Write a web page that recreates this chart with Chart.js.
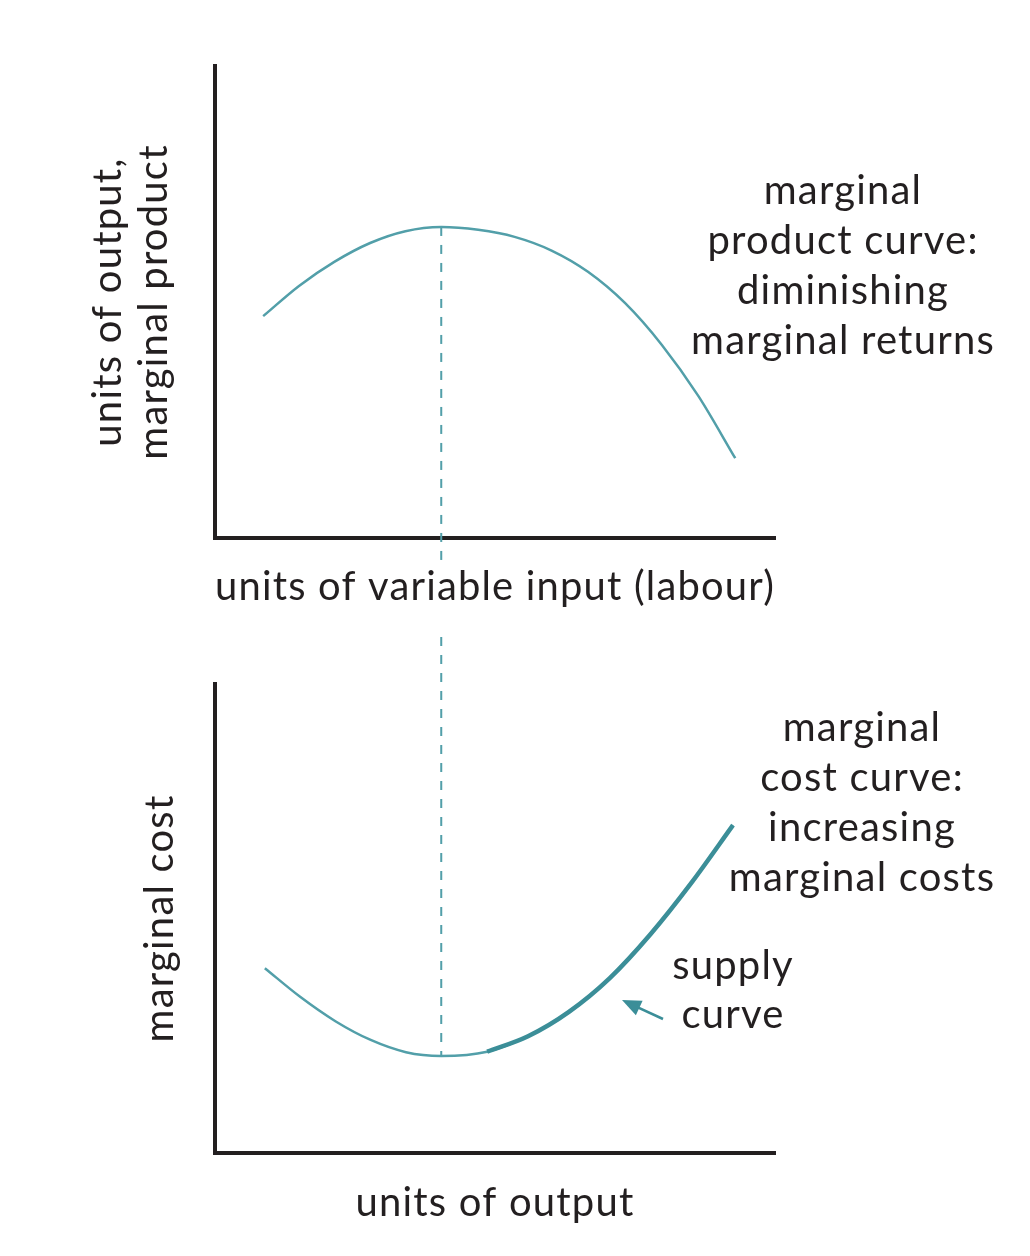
<!DOCTYPE html>
<html>
<head>
<meta charset="utf-8">
<script src="https://cdn.jsdelivr.net/npm/chart.js@4.4.1/dist/chart.umd.min.js"></script>
<style>
  html, body { margin: 0; padding: 0; background: #fff; }
  .panel { position: absolute; left: 0; width: 1030px; height: 628px; }
</style>
</head>
<body>
<div class="panel" style="top:0"><canvas id="productChart"></canvas></div>
<div class="panel" style="top:628px"><canvas id="costChart"></canvas></div>
<script>
// top panel: marginal product against labour
const labourUnits = [8.6, 15.0, 21.3, 27.7, 34.0, 40.4, 47.0, 53.5, 60.1, 66.6, 73.2, 79.8, 86.3, 92.9];
const marginalProduct = [47.0, 53.4, 58.5, 62.5, 65.0, 65.9, 65.3, 63.8, 60.9, 56.4, 49.8, 40.9, 30.1, 16.9];

// bottom panel: marginal cost against output
const outputUnits = [8.9, 15.2, 21.5, 27.8, 34.1, 40.4, 48.6, 55.9, 63.2, 70.5, 77.8, 85.2, 92.5];
const marginalCost = [39.4, 33.3, 28.1, 24.1, 21.5, 20.7, 21.6, 24.9, 30.1, 37.3, 46.7, 57.8, 69.9];
const supplyStart = 48.6;

const productNote = ['marginal', 'product curve:', 'diminishing', 'marginal returns'];
const costNote = ['marginal', 'cost curve:', 'increasing', 'marginal costs'];
const supplyNote = ['supply', 'curve'];

const teal = '#529fa9';
const tealDark = '#3b8e98';
const ink = '#231f20';
const FONT = 'Lato, "Open Sans", sans-serif';
const FS = 40;
const SPACING = '1.2px';

const toPoints = (xs, ys) => xs.map((x, i) => ({ x, y: ys[i] }));

// wider tracking for every text drawn on the canvas
const tracking = {
    id: 'tracking',
    beforeDraw(chart) { chart.ctx.letterSpacing = SPACING; },
};

function noteLines(lines, dx, dy, lh) {
    return {
        id: 'note',
        afterDraw(chart) {
            const { ctx, chartArea: a } = chart;
            ctx.save();
            ctx.letterSpacing = SPACING;
            ctx.font = FS + 'px ' + FONT;
            ctx.fillStyle = ink;
            ctx.textAlign = 'center';
            ctx.textBaseline = 'middle';
            lines.forEach((t, i) => ctx.fillText(t, a.right + dx, a.top + dy + i * lh));
            ctx.restore();
        },
    };
}

function guide(pointX, pointY, fromTop) {
    return {
        id: 'guide',
        beforeDatasetsDraw(chart) {
            const { ctx, chartArea: a, scales } = chart;
            const x = scales.x.getPixelForValue(pointX);
            const y = scales.y.getPixelForValue(pointY);
            ctx.save();
            ctx.strokeStyle = teal;
            ctx.lineWidth = 2;
            ctx.setLineDash([9, 9]);
            ctx.beginPath();
            if (fromTop) {
                ctx.moveTo(x, 9);
                ctx.lineTo(x, y);
            } else {
                ctx.moveTo(x, y);
                ctx.lineTo(x, a.bottom + 26);
            }
            ctx.stroke();
            ctx.restore();
        },
    };
}

const arrow = {
    id: 'arrow',
    afterDraw(chart) {
        const { ctx, chartArea: a } = chart;
        const tx = a.left + 407, ty = a.top + 316;
        const sx = a.left + 448, sy = a.top + 335;
        const ang = Math.atan2(ty - sy, tx - sx);
        ctx.save();
        ctx.strokeStyle = tealDark;
        ctx.fillStyle = tealDark;
        ctx.lineWidth = 2.5;
        ctx.beginPath();
        ctx.moveTo(sx, sy);
        ctx.lineTo(tx - 12 * Math.cos(ang), ty - 12 * Math.sin(ang));
        ctx.stroke();
        ctx.beginPath();
        ctx.moveTo(tx, ty);
        ctx.lineTo(tx - 19 * Math.cos(ang) + 8 * Math.sin(ang), ty - 19 * Math.sin(ang) - 8 * Math.cos(ang));
        ctx.lineTo(tx - 19 * Math.cos(ang) - 8 * Math.sin(ang), ty - 19 * Math.sin(ang) + 8 * Math.cos(ang));
        ctx.closePath();
        ctx.fill();
        ctx.restore();
    },
};

function axes(xTitle, xHeight, xPad, yTitle, yPad) {
    const titleFont = { family: FONT, size: FS, lineHeight: 1.15 };
    return {
        x: {
            type: 'linear', min: 0, max: 100,
            grid: { display: false },
            ticks: { display: false },
            border: { display: true, color: ink, width: 4 },
            title: { display: true, text: xTitle, color: ink, font: titleFont, padding: { top: 0, bottom: xPad } },
            afterFit(s) { s.height = xHeight; },
        },
        y: {
            type: 'linear', min: 0, max: 100,
            grid: { display: false },
            ticks: { display: false },
            border: { display: true, color: ink, width: 4 },
            title: { display: true, text: yTitle, color: ink, font: titleFont, padding: { top: yPad, bottom: 0 } },
            afterFit(s) { s.width = 215; },
        },
    };
}

const base = {
    responsive: true,
    maintainAspectRatio: false,
    animation: false,
    plugins: { legend: { display: false }, tooltip: { enabled: false } },
    elements: { point: { radius: 0 }, line: { cubicInterpolationMode: 'monotone' } },
};

const peakAt = marginalProduct.indexOf(Math.max(...marginalProduct));
new Chart(document.getElementById('productChart'), {
    type: 'line',
    data: {
        datasets: [{
            data: toPoints(labourUnits, marginalProduct),
            borderColor: teal,
            borderWidth: 2.5,
        }],
    },
    options: {
        ...base,
        layout: { padding: { top: 66, right: 255, left: 0, bottom: 0 } },
        scales: axes('units of variable input (labour)', 90, 18, ['units of output,', 'marginal product'], 85),
    },
    plugins: [tracking, guide(labourUnits[peakAt], marginalProduct[peakAt], false), noteLines(productNote, 68, 125, 50)],
});

const minAt = marginalCost.indexOf(Math.min(...marginalCost));
const supplyX = outputUnits.filter(x => x >= supplyStart);
const supplyY = marginalCost.slice(outputUnits.length - supplyX.length);
new Chart(document.getElementById('costChart'), {
    type: 'line',
    data: {
        datasets: [{
            data: toPoints(supplyX, supplyY),
            borderColor: tealDark,
            borderWidth: 4.5,
            order: 0,
        }, {
            data: toPoints(outputUnits, marginalCost),
            borderColor: teal,
            borderWidth: 2.5,
            order: 1,
        }],
    },
    options: {
        ...base,
        layout: { padding: { top: 56, right: 255, left: 0, bottom: 0 } },
        scales: axes('units of output', 103, 30, 'marginal cost', 137),
    },
    plugins: [tracking, guide(outputUnits[minAt], marginalCost[minAt], true), noteLines(costNote, 87, 44, 50), noteLines(supplyNote, -42, 282, 49), arrow],
});
</script>
</body>
</html>
